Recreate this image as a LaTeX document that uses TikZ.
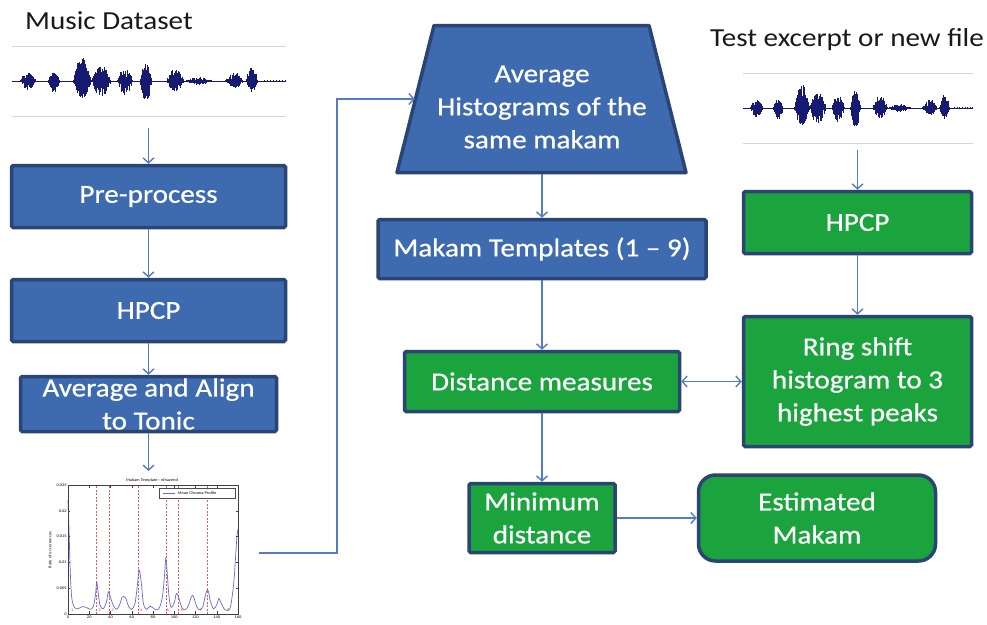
\documentclass[tikz,border=0pt]{standalone}
\usepackage{fontspec}
\setmainfont{Carlito}[FakeStretch=1.12]
\newfontfamily\boxfont{Carlito}[FakeStretch=1.12, FakeBold=0.6, Ligatures=TeX]
\usetikzlibrary{arrows.meta,calc}
\definecolor{boxblue}{RGB}{62,107,175}
\definecolor{boxgreen}{RGB}{27,164,62}
\definecolor{edgeblue}{RGB}{42,68,116}
\definecolor{arrowblue}{RGB}{84,124,198}
\definecolor{wavenavy}{RGB}{22,26,112}
\definecolor{rulegray}{RGB}{214,214,214}
\definecolor{curveblue}{RGB}{104,104,214}
\definecolor{dashred}{RGB}{230,90,90}

\newcommand{\wavepic}{%
  \draw[wavenavy, line width=0.6pt] (0,0) -- (274,0);
  \foreach \c/\w/\u/\d in {16/8/9/9, 42/6/9/11, 70/9/24/19, 89/10/16/16, 113/8/13/14, 134/6/19/22, 163/9/13/11, 187/14/4/4, 222/9/9/9, 240/6/14/11}{%
    \foreach \t in {-1,-0.95,...,1}{%
      \pgfmathsetmacro\xx{\c+\t*\w}%
      \pgfmathsetmacro\ee{1-\t*\t}%
      \pgfmathsetmacro\uu{\u*\ee*(0.2+0.8*rnd)}%
      \pgfmathsetmacro\dd{\d*\ee*(0.2+0.8*rnd)}%
      \draw[wavenavy, line width=0.75pt] (\xx,-\uu) -- (\xx,\dd);
    }%
  }%
  \foreach \xx in {252,255,...,274}{\draw[wavenavy, line width=0.5pt] (\xx,-1.2) -- (\xx,1.2);}%
}

\begin{document}
\begin{tikzpicture}[x=1pt,y=-1pt,
  box/.style={draw=edgeblue, line width=3.5pt, rounded corners=1.5pt, text=white,
    font=\boxfont\fontsize{26}{33}\selectfont, align=center, inner sep=0pt},
  bluebox/.style={box, fill=boxblue},
  greenbox/.style={box, fill=boxgreen},
  boxtext/.style={text=white, font=\boxfont\fontsize{26}{33}\selectfont, align=center, inner sep=0pt},
  titletext/.style={text=black!90, font=\fontsize{26}{30}\selectfont, inner sep=0pt},
  arr/.style={draw=arrowblue, line width=1.4pt,
    -{Straight Barb[length=5pt,width=11pt,line width=1.4pt]}},
  darr/.style={draw=arrowblue, line width=1.4pt,
    {Straight Barb[length=5pt,width=11pt,line width=1.4pt]}-{Straight Barb[length=5pt,width=11pt,line width=1.4pt]}},
  rule/.style={draw=rulegray, line width=1pt},
  tiny/.style={font=\fontsize{4}{5}\selectfont, inner sep=0.5pt},
]
\useasboundingbox (0,0) rectangle (987,624);
\fill[white] (0,0) rectangle (987,624);

% ---------- titles ----------
\node[titletext, anchor=west] (t1) at (25,21) {Music Dataset};
\node[titletext, anchor=west] (t2) at (710,40) {Test excerpt or new file};

% ---------- waveforms ----------
\draw[rule] (12,46) -- (286,46);
\draw[rule] (12,116) -- (286,116);
\begin{scope}[shift={(12,81)}]
  \pgfmathsetseed{17}
  \wavepic
\end{scope}
\draw[rule] (743,73) -- (973,73);
\draw[rule] (743,143) -- (973,143);
\begin{scope}[shift={(743,108)}, xscale=0.84]
  \pgfmathsetseed{17}
  \wavepic
\end{scope}

% ---------- left column ----------
\node[bluebox, minimum width=274pt, minimum height=62pt] (pre) at (148.5,196.5) {Pre-process};
\node[bluebox, minimum width=274pt, minimum height=62pt] (hpcpL) at (148.5,310.5) {HPCP};
\node[bluebox, minimum width=256pt, minimum height=55pt] (avg) at (148.5,404) {};
\node[boxtext] (avgtext) at (148.5,404) {Average and Align\\to Tonic};

\coordinate (w1) at (148.5,128);
\coordinate (plottop) at (148.5,471);
\coordinate (plotR) at (259,553);

% ---------- plot ----------
\node[tiny] (ptitle) at (152,480) {Makam Template : nihavend};
\begin{scope}[shift={(68,614)}, xscale=1.0625, yscale=-5.16]
  \foreach \v in {27,39,66.5,92,104,131}{\draw[dashred, line width=0.5pt, dash pattern=on 2pt off 1.5pt] (\v,0) -- (\v,25);}
  \draw[curveblue, line width=0.7pt] plot[smooth, tension=0.5] coordinates {
    (0,22) (1,16) (2,9) (3,4.5) (4,2.5) (6,1.3) (9,1.0) (13,1.4) (17,1.3) (21,0.9) (24,1.5)
    (26,4) (27,6.2) (28,4.8) (30,1.8) (33,1.0) (36,2.2) (38,4.3) (40,3.2) (43,1.5) (46,0.9)
    (49,2.0) (51,3.3) (54,3.2) (57,1.5) (60,0.9) (63,2.0) (65,5) (67,8.5) (69,6) (71,2.0)
    (74,0.9) (77,1.5) (80,1.2) (83,0.8) (86,1.2) (89,3.5) (91,8) (92,10.8) (93,9) (95,3.5)
    (97,1.3) (100,2.2) (102,4) (104,3.3) (107,1.3) (110,0.8) (113,1.5) (116,3.3) (118,3.5)
    (121,1.5) (124,0.8) (127,1.5) (130,4.2) (132,4.5) (134,2.5) (137,1.0) (140,1.8)
    (142,3.0) (144,2.2) (147,1.0) (150,0.7) (153,1.5) (156,6) (158,12) (159,15) (160,16.5)};
  \draw[black!75, line width=0.4pt] (0,0) rectangle (160,25);
  \foreach \v in {20,40,...,140}{\draw[black!75, line width=0.3pt] (\v,0) -- (\v,0.6) (\v,25) -- (\v,24.4);}
  \foreach \v in {5,10,15,20}{\draw[black!75, line width=0.3pt] (0,\v) -- (2,\v) (160,\v) -- (158,\v);}
  \foreach \v in {0,20,...,160}{\node[tiny, anchor=north] at (\v,-0.3) {\v};}
  \foreach \v/\l in {0/0,5/0.005,10/0.01,15/0.015,20/0.02,25/0.025}{\node[tiny, anchor=east] at (-0.5,\v) {\l};}
  \foreach \v/\l in {4/1,30/2,42/3,69/4,94/5,107/6,125/7,151/8}{\node[tiny, text=red!80] at (\v,0.8) {\l};}
\end{scope}
\node[tiny, rotate=90] (ylab) at (50,550) {Rate of occurrences};
\node[draw=black!70, line width=0.3pt, fill=white, minimum width=76pt, minimum height=10pt, inner sep=0pt] (legend) at (197,493) {};
\draw[curveblue, line width=0.6pt] (163,493) -- (175,493);
\node[tiny, anchor=west] (legtext) at (177,493) {Mean Chroma Profile};

% ---------- middle column ----------
\node[minimum width=254pt, minimum height=150pt, inner sep=0pt] (trap) at (542,99) {};
\draw[draw=edgeblue, fill=boxblue, line width=3.5pt, line join=round]
  (434,25.5) -- (649,25.5) -- (686,172.5) -- (397,172.5) -- cycle;
\node[boxtext] (traptext) at (542,107) {Average\\Histograms of the\\same makam};
\node[bluebox, minimum width=328pt, minimum height=59pt] (tmpl) at (542,249) {Makam Templates (1 – 9)};
\node[greenbox, minimum width=275pt, minimum height=60pt] (dist) at (542,381.5) {Distance measures};
\node[greenbox, minimum width=146pt, minimum height=69pt] (mind) at (542,518) {Minimum\\distance};
\node[greenbox, rounded corners=17pt, minimum width=237pt, minimum height=86pt] (est) at (817,518) {Estimated\\Makam};

% ---------- right column ----------
\coordinate (w2) at (857.5,150);
\node[greenbox, minimum width=228pt, minimum height=62pt] (hpcpR) at (857.5,222.5) {HPCP};
\node[greenbox, minimum width=228pt, minimum height=130pt] (ring) at (857.5,381.5) {Ring shift\\histogram to 3\\highest peaks};

% ---------- connectors ----------
\draw[arr] (w1) -- (pre.north);
\draw[arr] (pre) -- (hpcpL);
\draw[arr] (hpcpL) -- (avg);
\draw[arr] (avg) -- (plottop);
\draw[arr] (plotR) -- ++(78,0) |- (trap.west);
\draw[arr] (trap.south) -- (tmpl.north);
\draw[arr] (tmpl) -- (dist);
\draw[darr] (dist) -- (ring);
\draw[arr] (dist) -- (mind);
\draw[arr] (mind) -- (est);
\draw[arr] (w2) -- (hpcpR.north);
\draw[arr] (hpcpR) -- (ring);
\end{tikzpicture}
\end{document}
